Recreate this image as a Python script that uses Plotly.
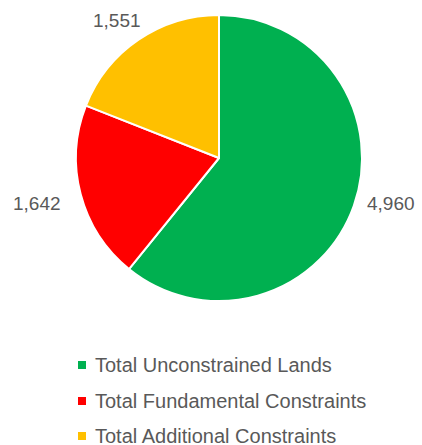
import plotly.graph_objects as go

categories = ["Total Unconstrained Lands", "Total Fundamental Constraints", "Total Additional Constraints"]
values = [4960, 1642, 1551]
colors = ["#00B050", "#FF0000", "#FFC000"]

W, H = 422, 445
TEXT = "#595959"
FONT = "Liberation Sans, Arial, sans-serif"

# pie placement in pixels (center and radius)
cx, cy, r = 219, 158, 143

fig = go.Figure(go.Pie(
    labels=categories,
    values=values,
    marker=dict(colors=colors, line=dict(color="white", width=2)),
    sort=False,
    direction="clockwise",
    rotation=0,
    textinfo="none",
    hoverinfo="label+value",
    showlegend=False,
    domain=dict(x=[(cx - r) / W, (cx + r) / W], y=[1 - (cy + r) / H, 1 - (cy - r) / H]),
))

# value labels outside the slices
label_pos = [(391, 204), (37, 203), (117, 21)]
for v, (px, py) in zip(values, label_pos):
    fig.add_annotation(
        x=px / W, y=1 - py / H, xref="paper", yref="paper",
        text=f"{v:,}", showarrow=False, xanchor="center", yanchor="middle",
        font=dict(family=FONT, size=19, color=TEXT),
    )

# legend: colored square marker plus label per category
legend_y = [365, 401, 436]
for name, col, ly in zip(categories, colors, legend_y):
    fig.add_shape(
        type="rect", xref="paper", yref="paper",
        x0=78 / W, x1=86 / W, y0=1 - (ly + 4) / H, y1=1 - (ly - 4) / H,
        fillcolor=col, line=dict(width=0),
    )
    fig.add_annotation(
        x=93 / W, y=1 - ly / H, xref="paper", yref="paper",
        text=name, showarrow=False, xanchor="left", yanchor="middle",
        font=dict(family=FONT, size=20, color=TEXT),
    )

fig.update_layout(
    width=W, height=H,
    margin=dict(l=0, r=0, t=0, b=0),
    paper_bgcolor="white", plot_bgcolor="white",
)

fig.write_html("out.html")
